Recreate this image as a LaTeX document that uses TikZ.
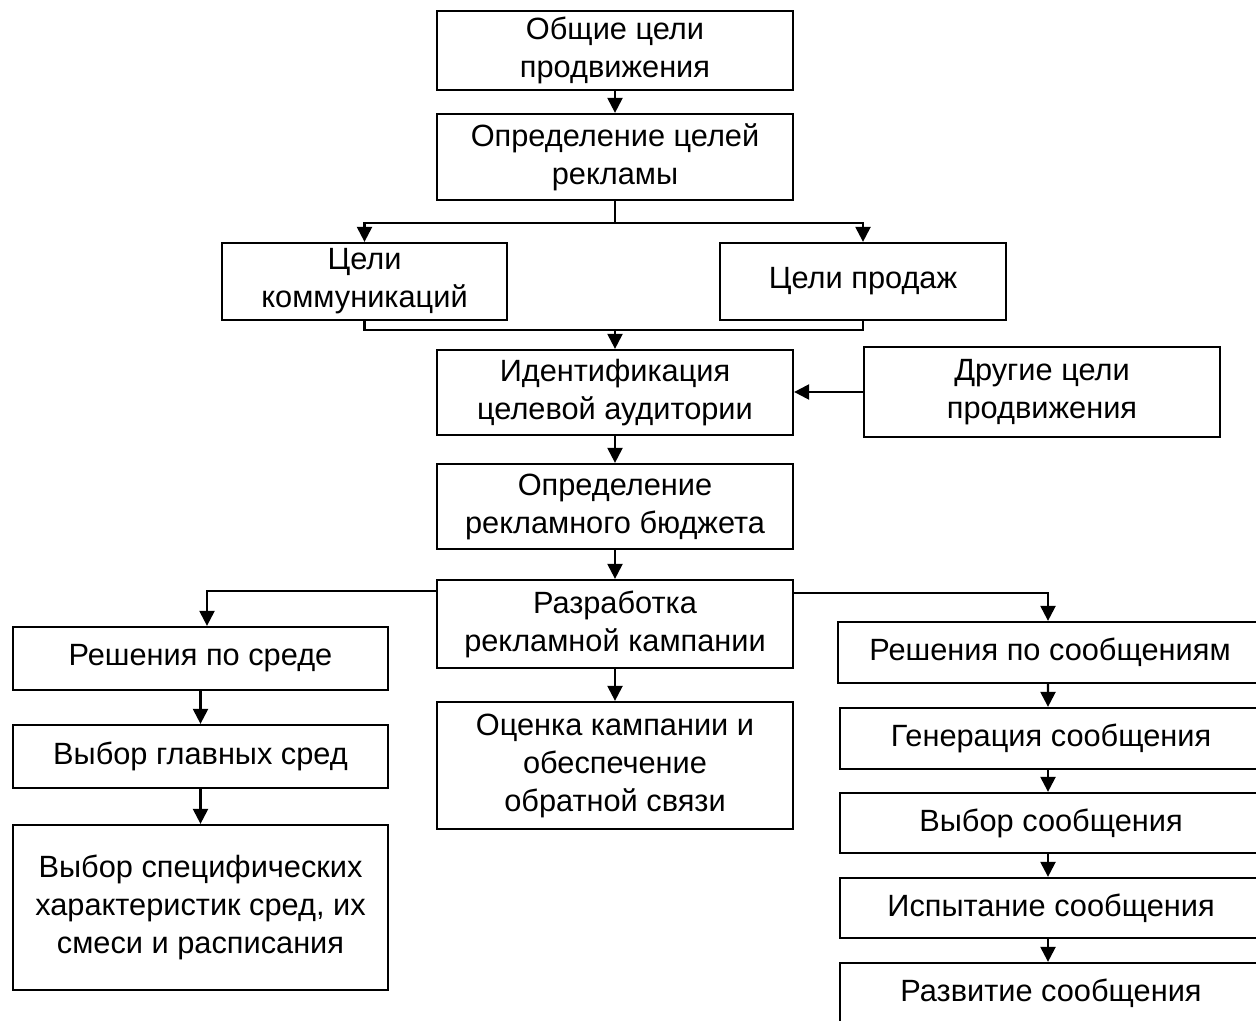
\documentclass[tikz,border=0pt]{standalone}
\usepackage{fontspec}
\setmainfont{Liberation Sans}
\usetikzlibrary{arrows.meta}

\begin{document}
\begin{tikzpicture}[x=0.02cm, y=-0.02cm,
		box/.style={draw, line width=1.3pt, align=center, inner sep=0pt,
			font=\fontsize{17.5}{21.6}\selectfont},
		arr/.style={line width=1.3pt, -{Triangle[width=0.3cm, length=0.3cm]}},
		ln/.style={line width=1.3pt}]
			\useasboundingbox (0,0) rectangle (1256,1020);
			\clip (0,0) rectangle (1256,1020);

			% Central column
			\node[box, minimum width=7.12cm, minimum height=1.58cm] (goals) at (615,50.5) {Общие цели\\продвижения};
			\node[box, minimum width=7.12cm, minimum height=1.72cm] (adgoals) at (615,157) {Определение целей\\рекламы};
			\node[box, minimum width=5.7cm, minimum height=1.54cm] (comm) at (364.5,281.5) {Цели\\коммуникаций};
			\node[box, minimum width=5.72cm, minimum height=1.54cm] (sales) at (863,281.5) {Цели продаж};
			\node[box, minimum width=7.12cm, minimum height=1.7cm] (audience) at (615,392.5) {Идентификация\\целевой аудитории};
			\node[box, minimum width=7.12cm, minimum height=1.8cm] (other) at (1042,392) {Другие цели\\продвижения};
			\node[box, minimum width=7.12cm, minimum height=1.7cm] (budget) at (615,506.5) {Определение\\рекламного бюджета};
			\node[box, minimum width=7.12cm, minimum height=1.76cm] (campaign) at (615,624) {Разработка\\рекламной кампании};
			\node[box, minimum width=7.12cm, minimum height=2.54cm] (evaluation) at (615,765.5) {Оценка кампании и\\обеспечение\\обратной связи};

			% Media column
			\node[box, minimum width=7.5cm, minimum height=1.26cm] (media) at (200.5,658.5) {Решения по среде};
			\node[box, minimum width=7.5cm, minimum height=1.26cm] (mainmedia) at (200.5,756.5) {Выбор главных сред};
			\node[box, minimum width=7.5cm, minimum height=3.3cm] (specific) at (200.5,907.5) {Выбор специфических\\характеристик сред, их\\смеси и расписания};

			% Message column
			\node[box, minimum width=8.48cm, minimum height=1.22cm] (msgdec) at (1050,652.5) {Решения по сообщениям};
			\node[box, minimum width=8.44cm, minimum height=1.22cm] (msggen) at (1051,738.5) {Генерация сообщения};
			\node[box, minimum width=8.44cm, minimum height=1.2cm] (msgsel) at (1051,823) {Выбор сообщения};
			\node[box, minimum width=8.44cm, minimum height=1.2cm] (msgtest) at (1051,908) {Испытание сообщения};
			\node[box, minimum width=8.44cm, minimum height=1.2cm] (msgdev) at (1051,993) {Развитие сообщения};

			% Arrows
			\draw[arr] (goals) -- (adgoals);
			\draw[ln] (adgoals.south) -- ++(0,22) coordinate (split);
			\draw[arr] (split) -| (comm.north);
			\draw[arr] (split) -| (sales.north);
			\coordinate (join) at (615,330);
			\draw[ln] (comm.south) |- (join) -| (sales.south);
			\draw[arr] (join) -- (audience.north);
			\draw[arr] (other.west) -- (other.west -| audience.east);
			\draw[arr] (audience) -- (budget);
			\draw[arr] (budget) -- (campaign);
			\draw[arr] (campaign) -- (evaluation);
			\draw[arr] ([yshift=-0.24cm]campaign.north west) -| ([xshift=0.13cm]media.north);
			\draw[arr] ([yshift=-0.28cm]campaign.north east) -| ([xshift=-0.04cm]msgdec.north);
			\draw[arr] (media) -- (mainmedia);
			\draw[arr] (mainmedia) -- (specific);
			\draw[arr] ([xshift=-0.04cm]msgdec.south) -- ([xshift=-0.06cm]msggen.north);
			\draw[arr] ([xshift=-0.06cm]msggen.south) -- ([xshift=-0.06cm]msgsel.north);
			\draw[arr] ([xshift=-0.06cm]msgsel.south) -- ([xshift=-0.06cm]msgtest.north);
			\draw[arr] ([xshift=-0.06cm]msgtest.south) -- ([xshift=-0.06cm]msgdev.north);
		\end{tikzpicture}
\end{document}
